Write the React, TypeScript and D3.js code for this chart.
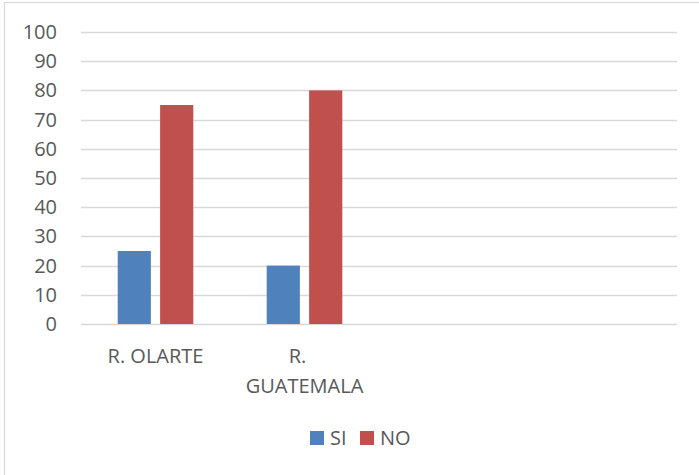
import React from "react";
import * as d3 from "d3";

const categories = ["R. OLARTE", "R. GUATEMALA", "", ""];
const seriesNames = ["SI", "NO"];
const siValues = [25, 20, null, null];
const noValues = [75, 80, null, null];
const yTicks = [0, 10, 20, 30, 40, 50, 60, 70, 80, 90, 100];

const colors = ["#4f81bd", "#c0504d"];
const W = 699;
const H = 475;
const FONT = "'Open Sans', sans-serif";
const TEXT = "#595959";

export default function App() {
  const x0 = d3.scaleBand<string>().domain(categories.map((c, i) => String(i))).range([81, 677]).padding(0);
  const groupInset = 36.7;
  const x1 = d3
    .scaleBand<string>()
    .domain(seriesNames)
    .range([groupInset, x0.bandwidth() - groupInset])
    .paddingInner(0.218)
    .paddingOuter(0);
  const y = d3.scaleLinear().domain([0, 100]).range([324, 32]);
  const series = [siValues, noValues];

  const labelLines = (c: string) => {
    if (c === "R. GUATEMALA") return ["R.", "GUATEMALA"];
    return c ? [c] : [];
  };

  return (
    <svg width={W} height={H} style={{ position: "absolute", left: 0, top: 0, background: "#fff" }}>
      <rect x={0} y={0} width={W} height={H} fill="#fff" />
      <rect x={4.5} y={2.5} width={W + 50} height={H + 50} fill="none" stroke="#d9d9d9" strokeWidth={1.2} />
      {yTicks.map((t) => (
        <g key={t}>
          <line x1={81} x2={677} y1={Math.round(y(t)) + 0.5} y2={Math.round(y(t)) + 0.5} stroke="#d9d9d9" strokeWidth={1.3} />
          <text x={57} y={y(t) + 7} textAnchor="end" fontFamily={FONT} fontSize={20} fill={TEXT}>
            {t}
          </text>
        </g>
      ))}
      {categories.map((c, ci) =>
        series.map((vals, si) => {
          const v = vals[ci];
          if (v == null) return null;
          const bx = (x0(String(ci)) as number) + (x1(seriesNames[si]) as number);
          return (
            <rect key={`${ci}-${si}`} x={bx} y={y(v)} width={x1.bandwidth()} height={y(0) - y(v)} fill={colors[si]} />
          );
        })
      )}
      {categories.map((c, ci) => {
        const cx = (x0(String(ci)) as number) + x0.bandwidth() / 2;
        const lines = labelLines(c);
        return (
          <text key={`l${ci}`} textAnchor="middle" fontFamily={FONT} fontSize={20} fill={TEXT}>
            {lines.map((ln, li) => (
              <tspan key={li} x={lines.length > 1 && li === 0 ? cx - 7 : cx} y={363 + li * 30}>
                {ln}
              </tspan>
            ))}
          </text>
        );
      })}
      {seriesNames.map((s, i) => {
        const lx = 310 + i * 50;
        return (
          <g key={s}>
            <rect x={lx} y={431} width={14} height={14} fill={colors[i]} />
            <text x={lx + 20} y={445} fontFamily={FONT} fontSize={20} fill={TEXT}>
              {s}
            </text>
          </g>
        );
      })}
    </svg>
  );
}
